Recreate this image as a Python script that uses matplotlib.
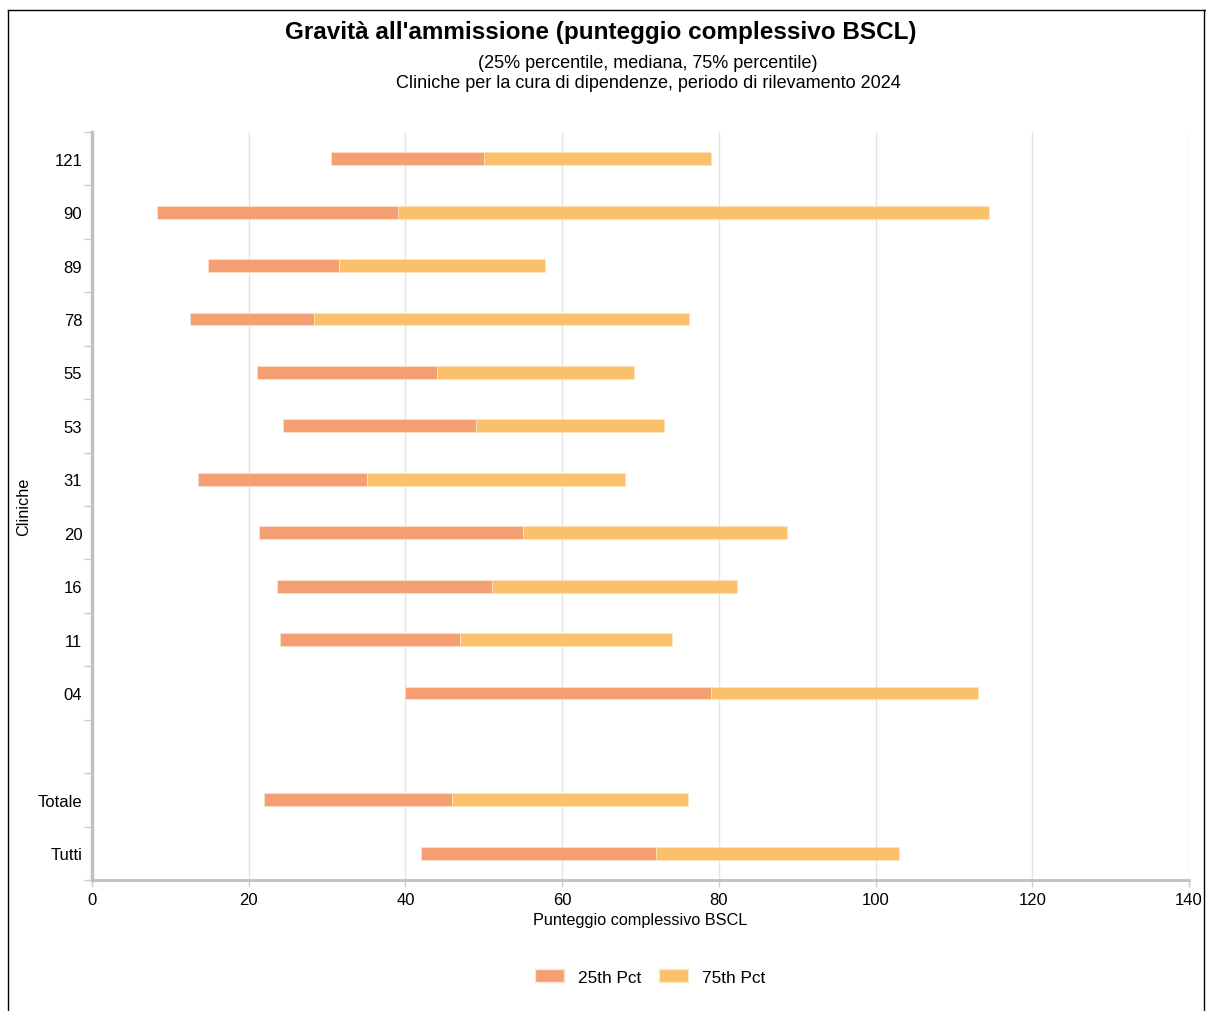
import matplotlib
matplotlib.use("Agg")
import matplotlib.pyplot as plt
from matplotlib.patches import Patch
from matplotlib.lines import Line2D

plt.rcParams['font.family'] = ['Liberation Sans', 'DejaVu Sans']

categories = ["121", "90", "89", "78", "55", "53", "31", "20", "16", "11", "04", "", "Totale", "Tutti"]
p25 =    [30.5,  8.3, 14.8, 12.5, 21.1, 24.4, 13.5, 21.3, 23.6, 24.0, 39.9, None, 22.0, 42.0]
median = [50.0, 39.0, 31.5, 28.3, 44.0, 49.0, 35.1, 55.0, 51.0, 47.0, 79.0, None, 45.9, 72.0]
p75 =    [79.0, 114.5, 57.8, 76.2, 69.2, 73.0, 68.0, 88.7, 82.3, 74.0, 113.1, None, 76.1, 103.0]
xticks = [0, 20, 40, 60, 80, 100, 120, 140]

c25 = "#F4A073"
c75 = "#FBC06A"

W, H = 1206, 1012
fig = plt.figure(figsize=(W/100, H/100), dpi=100)
ax = fig.add_axes([92/W, 1-881/H, (1189-92)/W, (881-133)/H])

ys = list(range(len(categories)))
for y, a, m, b in zip(ys, p25, median, p75):
    if a is None:
        continue
    ax.barh(y, m - a, left=a, height=0.24, color=c25, edgecolor="#fbe3d6", linewidth=0.5, zorder=3)
    ax.barh(y, b - m, left=m, height=0.24, color=c75, edgecolor="#fde6c3", linewidth=0.5, zorder=3)

ax.set_ylim(len(categories) - 0.5, -0.5)
ax.set_xlim(0, 140)
ax.set_yticks(ys)
ax.set_yticklabels(categories, fontsize=12)
ax.set_yticks([i - 0.5 for i in range(len(categories) + 1)], minor=True)
ax.tick_params(axis='y', which='major', length=0, pad=7)
ax.tick_params(axis='y', which='minor', length=6, color="#cccccc", width=1)
ax.set_xticks(xticks)
ax.set_xticklabels([str(t) for t in xticks], fontsize=12)
ax.tick_params(axis='x', length=5, color="#cccccc", width=1, pad=4)
ax.grid(axis='x', color="#e3e3e3", linewidth=1, zorder=0)
for s in ["top", "right"]:
    ax.spines[s].set_visible(False)
ax.spines["left"].set_color("#c0c0c0")
ax.spines["left"].set_linewidth(2.5)
ax.spines["bottom"].set_color("#c0c0c0")
ax.spines["bottom"].set_linewidth(2)
ax.set_xlabel("Punteggio complessivo BSCL", fontsize=11.7, labelpad=3)
fig.text(24/W, 1-507/H, "Cliniche", rotation=90, fontsize=11.7, ha="center", va="center")

fig.text(601/W, 1-32/H, "Gravità all'ammissione (punteggio complessivo BSCL)", fontsize=17.5,
         fontweight="bold", ha="center", va="center")
fig.text(648/W, 1-63/H, "(25% percentile, mediana, 75% percentile)", fontsize=13, ha="center", va="center")
fig.text(648/W, 1-83/H, "Cliniche per la cura di dipendenze, periodo di rilevamento 2024", fontsize=13,
         ha="center", va="center")

handles = [Patch(facecolor=c25, edgecolor="#fbe3d6", label="25th Pct"),
           Patch(facecolor=c75, edgecolor="#fde6c3", label="75th Pct")]
fig.legend(handles=handles, loc="center", bbox_to_anchor=(650/W, 1-978/H), ncol=2, frameon=False,
           fontsize=12.4, handlelength=1.7, handleheight=0.8, columnspacing=1.0, handletextpad=0.8)

# page frame
fig.add_artist(Line2D([8/W, 8/W], [0, 1-11/H], transform=fig.transFigure, color="black", lw=1))
fig.add_artist(Line2D([8/W, 1], [1-11/H, 1-11/H], transform=fig.transFigure, color="black", lw=1))
fig.add_artist(Line2D([1204/W, 1204/W], [0, 1-11/H], transform=fig.transFigure, color="black", lw=1))

fig.savefig("out.png", dpi=100)
